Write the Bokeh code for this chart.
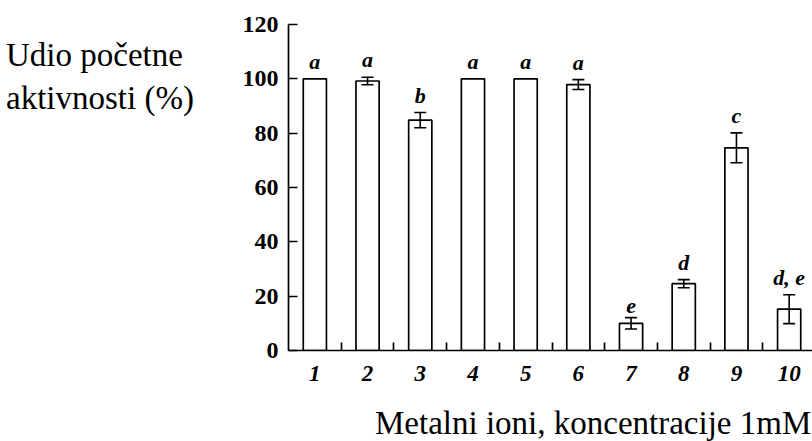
from bokeh.plotting import figure
from bokeh.models import (ColumnDataSource, FixedTicker, Whisker, TeeHead,
                          LabelSet, Range1d, Div)
from bokeh.layouts import row, column
from bokeh.embed import file_html
from bokeh.resources import INLINE

# ---- data ----
categories = ["1", "2", "3", "4", "5", "6", "7", "8", "9", "10"]
positions = [1, 2, 3, 4, 5, 6, 7, 8, 9, 10]
values = [100, 99.2, 84.8, 100, 100, 97.9, 10.0, 24.6, 74.6, 15.2]
errors = [0, 1.4, 2.8, 0, 0, 1.8, 2.1, 1.5, 5.5, 5.3]
letters = ["a", "a", "b", "a", "a", "a", "e", "d", "c", "d, e"]
y_ticks = [0, 20, 40, 60, 80, 100, 120]
y_label_lines = ["Udio početne", "aktivnosti (%)"]
x_label = "Metalni ioni, koncentracije 1mM"

SERIF = "Liberation Serif"
FS = 33                       # axis-title font size (px)
BASE = 0.891 * FS - (1.107 * FS - FS) / 2   # baseline offset in a line box

W, H = 812, 441
LW = 200                 # left text panel width
BH = 46                  # bottom text panel height
PW, PH = W - LW, H - BH
left_b, top_b, right_b = 88, 24, 0
bottom_b = PH - 350      # frame bottom at y = 350 on the page
frame_w = PW - left_b - right_b
px_per_cat = 52.7
x0 = 0.5
x1 = x0 + frame_w / px_per_cat
y0, y1 = 0, 120


def text_div(w, h, items):
    spans = "".join(
        f'<div style="position:absolute;left:{x}px;top:{y - BASE:.1f}px;'
        f"font-family:'{SERIF}';font-size:{FS}px;line-height:{FS}px;"
        f'white-space:nowrap;color:black;margin:0;padding:0;">{t}</div>'
        for x, y, t in items)
    html = (f'<div style="position:relative;width:{w}px;height:{h}px;'
            f'margin:0;padding:0;overflow:visible;">{spans}</div>')
    return Div(text=html, width=w, height=h, margin=0,
               styles={"margin": "0", "padding": "0"})


# ---- left panel: horizontal y-axis title (baselines at 67 and 110 px) ----
lp = text_div(LW, H, [(6, 67, y_label_lines[0]), (6, 110, y_label_lines[1])])

# ---- bottom panel: x-axis title ----
bp = text_div(PW, BH, [(375 - LW, 435 - PH, x_label)])

# ---- main chart ----
p = figure(width=PW, height=PH, output_backend="svg", toolbar_location=None,
           x_range=Range1d(x0, x1), y_range=Range1d(y0, y1),
           min_border_left=left_b, min_border_top=top_b,
           min_border_bottom=bottom_b, min_border_right=right_b, margin=0)
p.title.visible = False
p.outline_line_color = None
p.grid.visible = False
p.background_fill_color = "white"
p.border_fill_color = "white"

tops = [v + e for v, e in zip(values, errors)]
src = ColumnDataSource(dict(x=positions, top=values, lab_y=tops, letter=letters))

p.vbar(x="x", top="top", width=0.44, bottom=0, source=src,
       fill_color="white", line_color="black", line_width=1.7)

err_idx = [i for i, e in enumerate(errors) if e > 0]
esrc = ColumnDataSource(dict(x=[positions[i] for i in err_idx],
                             upper=[values[i] + errors[i] for i in err_idx],
                             lower=[values[i] - errors[i] for i in err_idx]))
w = Whisker(base="x", upper="upper", lower="lower", source=esrc,
            level="annotation", line_color="black", line_width=1.6,
            upper_head=TeeHead(size=12, line_color="black", line_width=1.6),
            lower_head=TeeHead(size=12, line_color="black", line_width=1.6))
p.add_layout(w)

labs = LabelSet(x="x", y="lab_y", text="letter", source=src,
                text_align="center", text_baseline="bottom", y_offset=5,
                text_font=SERIF, text_font_style="bold italic",
                text_font_size="22px", text_color="black")
p.add_layout(labs)

# axes
p.yaxis.ticker = FixedTicker(ticks=y_ticks)
p.yaxis.major_tick_in = 9
p.yaxis.major_tick_out = 0
p.yaxis.minor_tick_line_color = None
p.yaxis.major_label_text_font = SERIF
p.yaxis.major_label_text_font_style = "bold"
p.yaxis.major_label_text_font_size = "24px"
p.yaxis.major_label_text_color = "black"
p.yaxis.major_label_standoff = 10
p.yaxis.axis_line_width = 1.7
p.yaxis.major_tick_line_width = 1.7

p.xaxis.ticker = FixedTicker(ticks=positions,
                             minor_ticks=[x + 0.5 for x in positions[:-1]])
p.xaxis.major_label_overrides = {pos: c for pos, c in zip(positions, categories)}
p.xaxis.major_tick_in = 0
p.xaxis.major_tick_out = 0
p.xaxis.minor_tick_in = 8
p.xaxis.minor_tick_out = 0
p.xaxis.minor_tick_line_width = 1.7
p.xaxis.axis_line_width = 1.7
p.xaxis.major_label_text_font = SERIF
p.xaxis.major_label_text_font_style = "bold italic"
p.xaxis.major_label_text_font_size = "23px"
p.xaxis.major_label_text_color = "black"
p.xaxis.major_label_standoff = 15

layout = row(lp, column(p, bp, margin=0, spacing=0), margin=0, spacing=0)
open("out.html", "w").write(file_html(layout, INLINE))
